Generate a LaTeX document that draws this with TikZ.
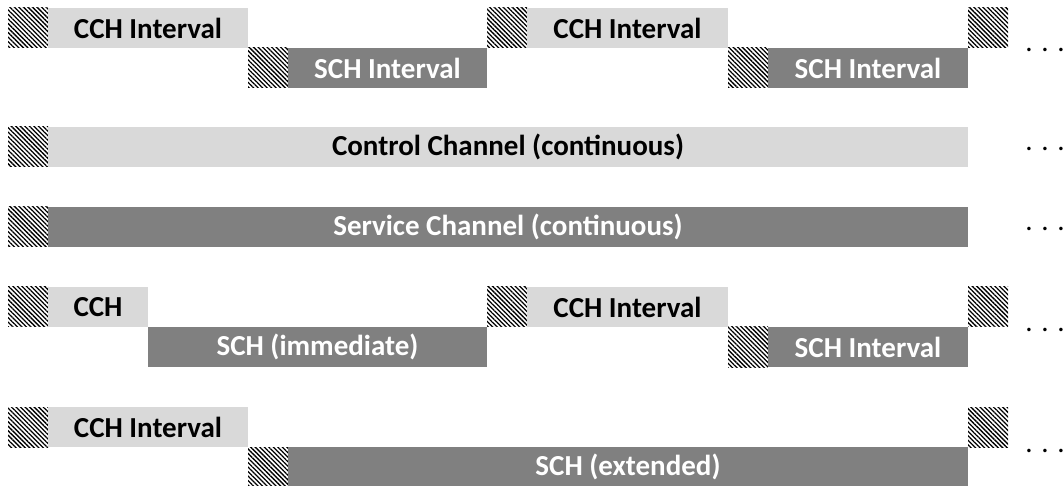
\documentclass[tikz,border=0pt]{standalone}
\usepackage{fontspec}
\setmainfont{Carlito}
\usetikzlibrary{patterns.meta}
\definecolor{cchgray}{HTML}{D9D9D9}
\definecolor{schgray}{HTML}{808080}
\tikzset{
  slot/.style={anchor=north west, inner sep=0pt, outer sep=0pt,
    minimum height=40pt, font=\bfseries\fontsize{29}{32}\selectfont},
  guard/.style={slot, minimum width=40pt, fill=white,
    pattern={Lines[angle=-45, distance=3.2pt, line width=1.3pt]}},
  cchbox/.style={slot, fill=cchgray, text=black},
  schbox/.style={slot, fill=schgray, text=white},
  more/.style={anchor=base, inner sep=0pt, font=\fontsize{29}{32}\selectfont},
}
\begin{document}
\begin{tikzpicture}[x=1pt, y=-1pt]
\useasboundingbox (0,0) rectangle (1063,486);

% alternating access
\node[guard] (g11) at (8,8) {};
\node[cchbox, minimum width=200pt] (c11) at (48,8) {CCH Interval};
\node[guard] (g12) at (248,48) {};
\node[schbox, minimum width=199pt] (s11) at (288,48) {SCH Interval};
\node[guard] (g13) at (487,8) {};
\node[cchbox, minimum width=201pt] (c12) at (527,8) {CCH Interval};
\node[guard] (g14) at (728,48) {};
\node[schbox, minimum width=200pt] (s12) at (768,48) {SCH Interval};
\node[guard] (g15) at (968,8) {};
\node[more] (m1) at (1045,52) {. . .};

% continuous control channel
\node[guard] (g21) at (8,127) {};
\node[cchbox, minimum width=920pt] (c21) at (48,127) {Control Channel (continuous)};
\node[more] (m2) at (1045,151) {. . .};

% continuous service channel
\node[guard] (g31) at (8,207) {};
\node[schbox, minimum width=920pt] (s31) at (48,207) {Service Channel (continuous)};
\node[more] (m3) at (1045,231) {. . .};

% immediate access
\node[guard] (g41) at (8,287) {};
\node[cchbox, minimum width=100pt] (c41) at (48,287) {CCH};
\node[schbox, minimum width=339pt] (s41) at (148,327) {SCH (immediate)};
\node[guard] (g42) at (487,287) {};
\node[cchbox, minimum width=201pt] (c42) at (527,287) {CCH Interval};
\node[guard] (g43) at (728,327) {};
\node[schbox, minimum width=200pt] (s42) at (768,327) {SCH Interval};
\node[guard] (g44) at (968,287) {};
\node[more] (m4) at (1045,332) {. . .};

% extended access
\node[guard] (g51) at (8,407) {};
\node[cchbox, minimum width=200pt] (c51) at (48,407) {CCH Interval};
\node[guard] (g52) at (248,447) {};
\node[schbox, minimum width=680pt] (s51) at (288,447) {SCH (extended)};
\node[guard] (g53) at (968,407) {};
\node[more] (m5) at (1045,452) {. . .};
\end{tikzpicture}
\end{document}
